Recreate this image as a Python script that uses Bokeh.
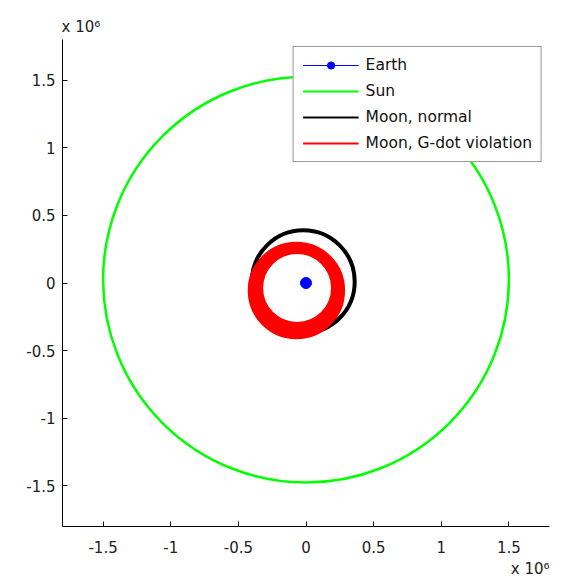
from bokeh.plotting import figure
from bokeh.models import (Range1d, FixedTicker, CustomJSTickFormatter, Legend,
                          LegendItem, Title)
from bokeh.embed import file_html
from bokeh.resources import INLINE

# ---- data (km) ----
tick_values = [-1.5e6, -1.0e6, -0.5e6, 0.0, 0.5e6, 1.0e6, 1.5e6]
exponent_text = "x 10\u2076"

earth_x = [0.0]
earth_y = [0.0]

sun_orbit_cx = [0.0]
sun_orbit_cy = [0.025e6]
sun_orbit_r = [1.5e6]

moon_normal_cx = [-0.02e6]
moon_normal_cy = [0.01e6]
moon_normal_r = [0.38e6]

moon_gdot_cx = [-0.066e6, -0.067e6, -0.068e6, -0.069e6, -0.069e6, -0.070e6, -0.070e6, -0.071e6]
moon_gdot_cy = [-0.037e6, -0.040e6, -0.042e6, -0.045e6, -0.047e6, -0.050e6, -0.052e6, -0.055e6]
moon_gdot_r = [0.262e6, 0.275e6, 0.288e6, 0.300e6, 0.312e6, 0.325e6, 0.337e6, 0.349e6]

FONT = "DejaVu Sans"
FS = "15px"

p = figure(frame_width=487, frame_height=487,
           x_range=Range1d(-1.8e6, 1.8e6), y_range=Range1d(-1.8e6, 1.8e6),
           output_backend="svg", toolbar_location=None,
           min_border_left=62, min_border_top=39, min_border_right=13,
           min_border_bottom=56)
p.grid.visible = False
p.outline_line_color = None
p.background_fill_color = "white"
p.border_fill_color = "white"

fmt = CustomJSTickFormatter(code="return (tick / 1e6).toString();")
for ax in (p.xaxis[0], p.yaxis[0]):
    ax.ticker = FixedTicker(ticks=tick_values)
    ax.formatter = fmt
    ax.major_tick_in = 5
    ax.major_tick_out = 0
    ax.minor_tick_in = 0
    ax.minor_tick_out = 0
    ax.axis_line_color = "black"
    ax.major_tick_line_color = "black"
    ax.major_label_text_font = FONT
    ax.major_label_text_font_size = FS
    ax.major_label_text_color = "#222222"
p.yaxis.major_label_standoff = 7
p.xaxis.major_label_standoff = 14

# Sun orbit
p.circle(x=sun_orbit_cx, y=sun_orbit_cy, radius=sun_orbit_r,
         fill_color=None, line_color="#00ff00", line_width=2.5)
# Moon normal
p.circle(x=moon_normal_cx, y=moon_normal_cy, radius=moon_normal_r,
         fill_color=None, line_color="black", line_width=4)
# Moon G-dot violation
p.circle(x=moon_gdot_cx, y=moon_gdot_cy, radius=moon_gdot_r,
         fill_color=None, line_color="#ff0000", line_width=3)
# Earth
earth_line = p.line(x=earth_x, y=earth_y, line_color="#0000ff", line_width=1)
earth_dot = p.scatter(x=earth_x, y=earth_y, size=11, marker="circle",
                      fill_color="#0000ff", line_color="#0000ff")

# legend proxies (single point lines draw nothing in the plot)
sun_leg = p.line(x=earth_x, y=earth_y, line_color="#00ff00", line_width=2)
moon_leg = p.line(x=earth_x, y=earth_y, line_color="black", line_width=2)
gdot_leg = p.line(x=earth_x, y=earth_y, line_color="#ff0000", line_width=2)

legend = Legend(items=[
    LegendItem(label="Earth", renderers=[earth_line, earth_dot]),
    LegendItem(label="Sun", renderers=[sun_leg]),
    LegendItem(label="Moon, normal", renderers=[moon_leg]),
    LegendItem(label="Moon, G-dot violation", renderers=[gdot_leg]),
], location="top_right", margin=7, padding=9, spacing=8,
    glyph_width=56, glyph_height=18, label_height=18, label_standoff=7,
    label_text_font=FONT, label_text_font_size="15.5px", label_text_color="#111111",
    border_line_color="#333333", border_line_width=1,
    background_fill_color="white", background_fill_alpha=1.0)
p.add_layout(legend)

# exponent markers
p.add_layout(Title(text=exponent_text, align="left", text_font=FONT,
                   text_font_size=FS, text_font_style="normal",
                   text_color="#222222", standoff=7, offset=-1), "above")
p.add_layout(Title(text=exponent_text, align="right", text_font=FONT,
                   text_font_size=FS, text_font_style="normal",
                   text_color="#222222", standoff=4, offset=0), "below")

open("out.html", "w").write(file_html(p, INLINE))
